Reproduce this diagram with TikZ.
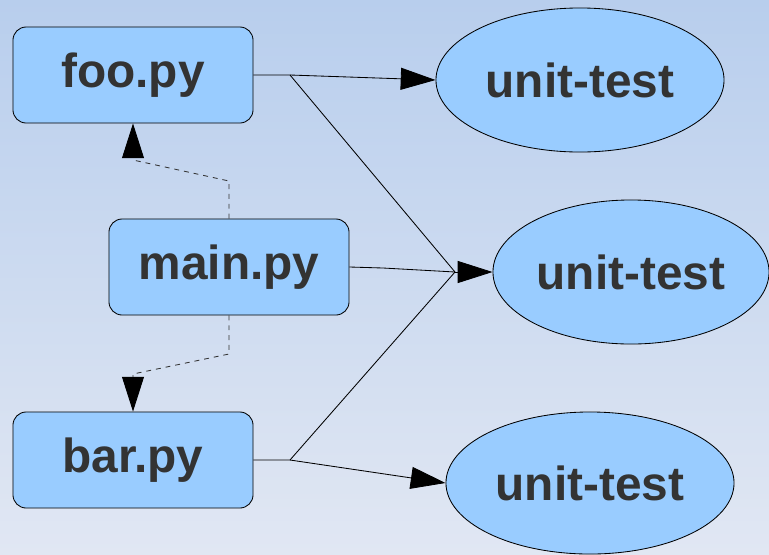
\documentclass[tikz,border=0pt]{standalone}
\usepackage{fontspec}
\setmainfont{Liberation Sans}
\usepackage{xcolor}
\usepackage{tikz}
\usetikzlibrary{shapes.geometric,arrows.meta}
\definecolor{boxblue}{HTML}{99CCFF}
\definecolor{textgray}{HTML}{333333}
\definecolor{bgtop}{HTML}{B8CEED}
\definecolor{bgbottom}{HTML}{E1E7F3}
\tikzset{
  modbox/.style={draw, rectangle, rounded corners=0.33cm, minimum width=6cm, minimum height=2.4cm, fill=boxblue, text=textgray, line width=0.6pt, font=\fontsize{34pt}{40pt}\selectfont\bfseries},
  testnode/.style={draw, ellipse, inner sep=0pt, fill=boxblue, text=textgray, line width=0.6pt, font=\fontsize{34pt}{40pt}\selectfont\bfseries},
  link/.style={line width=0.6pt},
  callarrow/.style={line width=0.6pt, -{Triangle[length=0.87cm, width=0.55cm]}},
  importarrow/.style={line width=0.6pt, draw=textgray, dash pattern=on 3.5pt off 3.5pt, -{Triangle[length=0.87cm, width=0.55cm, color=black]}}
}

\begin{document}
\begin{tikzpicture}[x=0.025cm, y=-0.025cm]%
\shade[top color=bgtop, bottom color=bgbottom] (0,0) rectangle (769,554);%
\useasboundingbox (0,0) rectangle (769,554);%
\node[modbox] (foo) at (133, 75) {foo.py};%
\node[modbox] (main) at (229, 267) {main.py};%
\node[modbox] (bar) at (133, 460) {bar.py};%
\node[testnode, minimum width=7.2cm, minimum height=3.6cm] (ut1) at (580, 80) {unit-test};%
\node[testnode, minimum width=6.9cm, minimum height=3.6cm] (ut2) at (631, 272) {unit-test};%
\node[testnode, minimum width=7.2cm, minimum height=3.55cm] (ut3) at (590, 483) {unit-test};%
\coordinate (jfoo) at (290, 75);%
\coordinate (jmain) at (383, 268);%
\coordinate (jbar) at (290, 460);%
\coordinate (jmid) at (455, 272);%
\coordinate (up1) at (229, 181);%
\coordinate (up2) at (133, 160);%
\coordinate (down1) at (229, 354);%
\coordinate (down2) at (133, 374);%
\draw[link] (foo.east) -- (jfoo) -- (jmid);%
\draw[link] (main.east) -- (jmain) -- (jmid);%
\draw[link] (bar.east) -- (jbar) -- (jmid);%
\draw[callarrow] (jfoo) -- (ut1.west);%
\draw[callarrow] (jmid) -- (ut2.west);%
\draw[callarrow] (jbar) -- (ut3.west);%
\draw[importarrow] (main.north) -- (up1) -- (up2) -- (foo.south);%
\draw[importarrow] (main.south) -- (down1) -- (down2) -- (bar.north);%
\end{tikzpicture}
\end{document}
